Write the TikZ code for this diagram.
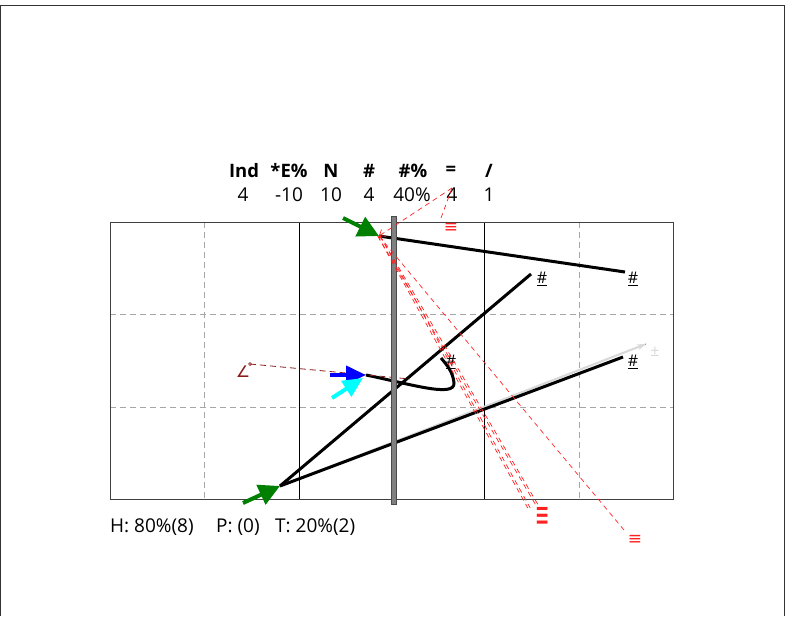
\documentclass[tikz,border=0pt]{standalone}
\usepackage{fontspec}
\usepackage{graphicx}
\setmainfont{Open Sans}
\newfontfamily\symfont{DejaVu Sans}
\usetikzlibrary{arrows.meta}
\definecolor{grn}{HTML}{008000}
\definecolor{maroon}{HTML}{8B1A1A}
\definecolor{cyn}{HTML}{00FFFF}
\definecolor{blu}{HTML}{0000FF}
\definecolor{rd}{HTML}{FF2020}
\begin{document}
\begin{tikzpicture}[x=1pt,y=-1pt,
  every node/.style={inner sep=0pt, font=\fontsize{19}{21}\selectfont},
  hdr/.style={font=\fontsize{18.5}{21}\selectfont\bfseries},
  gridd/.style={draw=black!35, line width=1pt, dash pattern=on 6pt off 4pt},
  gridsolid/.style={draw=black, line width=0.7pt},
  blk/.style={draw=black, line width=3pt},
  garrow/.style={draw=grn, line width=4pt, -{Triangle[length=21pt,width=21pt]}},
  barrow/.style={draw=blu, line width=4pt, -{Triangle[length=20pt,width=18pt]}},
  carrow/.style={draw=cyn, line width=4pt, -{Triangle[length=20pt,width=18pt]}},
  reddash/.style={draw=rd, line width=0.7pt, dash pattern=on 5pt off 4pt},
  hashlbl/.style={font=\fontsize{16}{18}\selectfont},
  redlbl/.style={text=rd, font=\symfont\fontsize{17}{18}\selectfont}
]
\useasboundingbox (0,0) rectangle (795,616);
% outer frame
\draw[line width=0.8pt, black!80] (0.5,616) -- (0.5,5.5) -- (784.5,5.5) -- (784.5,616);

% grid
\draw[gridd] (204,222) -- (204,499);
\draw[gridd] (579,222) -- (579,499);
\draw[gridd] (110,314) -- (673,314);
\draw[gridd] (110,407) -- (673,407);
\draw[gridsolid] (299,222) -- (299,499);
\draw[gridsolid] (484,222) -- (484,499);
\draw[draw=black!75, line width=0.9pt] (110,222) rectangle (673,499);

% header table
\node[hdr] (h1) at (244,171) {Ind};
\node[hdr] (h2) at (289,171) {*E\%};
\node[hdr] (h3) at (331,171) {N};
\node[hdr] (h4) at (369,171) {\#};
\node[hdr] (h5) at (413,171) {\#\%};
\node[hdr] (h6) at (451,171) {=};
\node[hdr] (h7) at (489,171) {/};
\node (v1) at (243,195) {4};
\node (v2) at (289,195) {-10};
\node (v3) at (331,195) {10};
\node (v4) at (369,195) {4};
\node (v5) at (412,195) {40\%};
\node (v6) at (452,195) {4};
\node (v7) at (489,195) {1};

% key points
\coordinate (T) at (379,236);
\coordinate (B) at (280,486);
\coordinate (TS) at (343,218);
\coordinate (BS) at (243,503);
\coordinate (E1) at (625,272);
\coordinate (E2) at (531,274);
\coordinate (E3) at (623,357);
\coordinate (E4) at (646,344);
\coordinate (BL) at (366,375);
\coordinate (BLS) at (330,375);
\coordinate (CY) at (363,378);
\coordinate (CYS) at (332,398);
\coordinate (CE) at (441,358);
\coordinate (MS) at (250,364);
\coordinate (ME) at (410,379);
\coordinate (RT) at (452,188);
\coordinate (RTE) at (441,218);
\coordinate (RA) at (529,508);
\coordinate (RB) at (537,505);
\coordinate (RC) at (624,530);

% lines
\draw[draw=black!70, line width=0.8pt] (B) -- (E4);
\draw[draw=black!15, line width=2pt, -{Stealth[length=9pt,width=6pt]}] (B) -- (E4);
\draw[blk] (T) -- (E1);
\draw[blk] (B) -- (E2);
\draw[blk] (B) -- (E3);
\draw[blk] (BL) .. controls (410,384) and (455,398) .. (454,383) .. controls (453,372) and (447,365) .. (CE);

% labels
\node[hashlbl] (l1) at (633,279) {\underline{\#}};
\node[hashlbl] (l2) at (542,279) {\underline{\#}};
\node[hashlbl] (l3) at (633,362) {\underline{\#}};
\node[hashlbl] (l4) at (451,362) {\underline{\#}};
\node[text=black!15, font=\fontsize{16}{18}\selectfont] (l5) at (655,352) {±};
\node[text=maroon, font=\symfont\fontsize{16}{18}\selectfont] (l6) at (243,372) {∠};

% maroon dashed
\draw[draw=maroon, line width=0.8pt, dash pattern=on 6pt off 4pt] (MS) -- (ME);
\draw[draw=maroon, line width=0.7pt] (MS) circle (1.5pt);

% bar
\draw[fill=black!50, draw=black!70, line width=0.8pt] (391,216) rectangle (396,504);

% arrows
\draw[garrow] (TS) -- (T);
\draw[garrow] (BS) -- (B);
\draw[barrow] (BLS) -- (BL);
\draw[carrow] (CYS) -- (CY);

% red dashed lines
\draw[reddash, -{Straight Barb[length=5pt,width=8pt]}] (RT) -- (T);
\draw[reddash] (RT) -- (RTE);
\draw[reddash] ([xshift=-1.2pt]T) -- ([xshift=-1.2pt]RA);
\draw[reddash] ([xshift=1.2pt]T) -- ([xshift=1.2pt]RA);
\draw[reddash] ([xshift=-1.2pt]T) -- ([xshift=-1.2pt]RB);
\draw[reddash] ([xshift=1.2pt]T) -- ([xshift=1.2pt]RB);
\draw[reddash] (T) -- (RC);

\node[redlbl] (r1) at (451,228) {≡};
\node[redlbl] (r2) at (543,517) {\scalebox{1}[2.2]{≡}};
\node[redlbl] (r4) at (635,540) {≡};

% bottom text
\node[anchor=base west] (f1) at (110,532) {H: 80\%(8)};
\node[anchor=base west] (f2) at (216,532) {P: (0)};
\node[anchor=base west] (f3) at (275,532) {T: 20\%(2)};
\end{tikzpicture}
\end{document}
